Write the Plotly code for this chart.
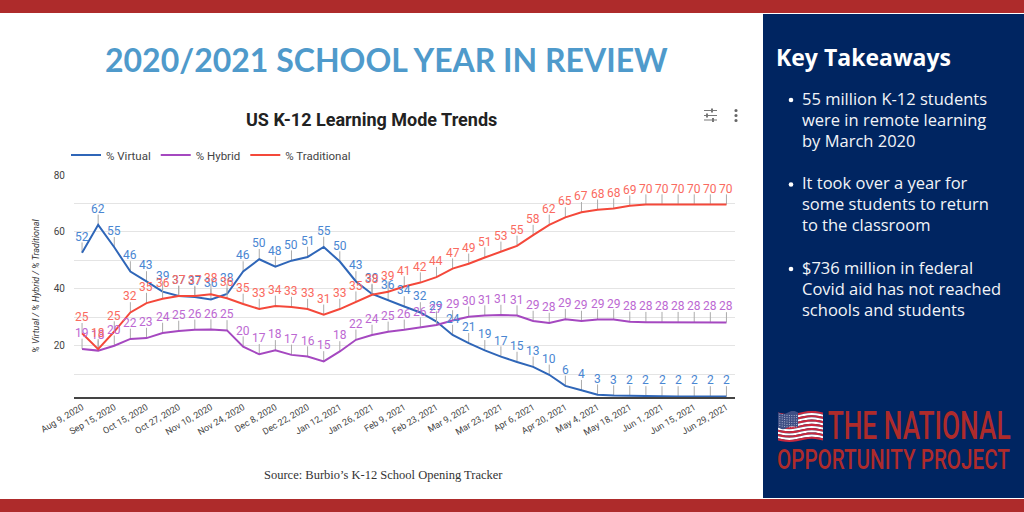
import math

import plotly.graph_objects as go

# Tick labels sit on every second point of the sheet
date_labels = [
    "Aug 9, 2020", "Sep 15, 2020", "Oct 15, 2020", "Oct 27, 2020", "Nov 10, 2020",
    "Nov 24, 2020", "Dec 8, 2020", "Dec 22, 2020", "Jan 12, 2021", "Jan 26, 2021",
    "Feb 9, 2021", "Feb 23, 2021", "Mar 9, 2021", "Mar 23, 2021", "Apr 6, 2021",
    "Apr 20, 2021", "May 4, 2021", "May 18, 2021", "Jun 1, 2021", "Jun 15, 2021",
    "Jun 29, 2021",
]

# Line heights
virtual = [52.7, 62.5, 54.6, 46.1, 42.6, 39.0, 37.5, 37.1, 36.3, 38.2, 46.1, 50.4, 47.8, 49.9,
           51.2, 54.7, 49.6, 42.6, 38.2, 35.9, 33.8, 31.7, 28.5, 23.8, 20.9, 18.4, 16.2, 14.3,
           12.6, 9.8, 5.9, 4.4, 2.8, 2.5, 2.4, 2.2, 2.2, 2.2, 2.2, 2.2, 2.2]
hybrid = [18.9, 18.3, 20.0, 22.4, 22.7, 24.5, 25.2, 25.6, 25.7, 25.4, 19.7, 17.0, 18.4, 16.8,
          16.2, 14.5, 18.0, 22.1, 23.8, 24.9, 25.6, 26.4, 27.3, 28.9, 30.2, 30.6, 30.8, 30.6,
          28.7, 28.0, 29.3, 28.7, 29.2, 29.2, 28.4, 28.3, 28.3, 28.3, 28.3, 28.2, 28.2]
traditional = [24.4, 18.8, 25.0, 31.7, 35.0, 36.5, 37.5, 37.5, 38.1, 36.7, 34.7, 32.9, 34.0, 33.6,
               32.9, 30.9, 32.9, 35.5, 37.9, 39.0, 40.8, 42.2, 44.1, 47.1, 48.8, 51.0, 53.0, 55.1,
               58.9, 62.5, 65.1, 66.9, 67.8, 68.2, 69.2, 69.6, 69.6, 69.6, 69.6, 69.6, 69.6]

# Printed point labels
virtual_labels = [52, 62, 55, 46, 43, 39, 37, 37, 36, 38, 46, 50, 48, 50, 51, 55, 50, 43, 39, 36, 34,
                  32, 29, 24, 21, 19, 17, 15, 13, 10, 6, 4, 3, 3, 2, 2, 2, 2, 2, 2, 2]
hybrid_labels = [19, 18, 20, 22, 23, 24, 25, 26, 26, 25, 20, 17, 18, 17, 16, 15, 18, 22, 24, 25, 26,
                 26, 27, 29, 30, 31, 31, 31, 29, 28, 29, 29, 29, 29, 28, 28, 28, 28, 28, 28, 28]
traditional_labels = [25, 18, 25, 32, 35, 36, 37, 37, 38, 36, 35, 33, 34, 33, 33, 31, 33, 35, 38, 39, 41,
                      42, 44, 47, 49, 51, 53, 55, 58, 62, 65, 67, 68, 68, 69, 70, 70, 70, 70, 70, 70]

takeaways = [
    ["55 million K-12 students", "were in remote learning", "by March 2020"],
    ["It took over a year for", "some students to return", "to the classroom"],
    ["$736 million in federal", "Covid aid has not reached", "schools and students"],
]

RED = "#AE2B2B"
NAVY = "#002561"
W, H = 1024, 512

# No condensed face is installed, so the logo text gets squeezed to its width in the browser
squeeze_logo = """
document.body.style.margin = '0';
var widths = {'THE NATIONAL': 183, 'OPPORTUNITY PROJECT': 233};
document.querySelectorAll('text.annotation-text').forEach(function (el) {
    var w = widths[el.textContent];
    if (w) {
        var box = el.getBBox();
        var cx = box.x + box.width / 2;
        el.setAttribute('transform', 'translate(' + cx + ',0) scale(' + (w / box.width) + ',1) translate(' + (-cx) + ',0)');
    }
});
"""


def px(x):
    return x / W


def py(y):
    return 1 - y / H


def rect(x0, y0, x1, y1, color):
    return dict(type="rect", xref="paper", yref="paper", x0=px(x0), x1=px(x1), y0=py(y0), y1=py(y1),
                fillcolor=color, line_width=0, layer="below")


def dot(x, y, r, color):
    return dict(type="circle", xref="paper", yref="paper", x0=px(x - r), x1=px(x + r), y0=py(y - r), y1=py(y + r),
                fillcolor=color, line_width=0)


def wave(x0, x1, y0, y1, color):
    # little ribbon with the flag's ripple on both edges
    steps = [x0 + (x1 - x0) * i / 12 for i in range(13)]
    off = [1.6 * math.sin((x - x0) / (x1 - x0) * 2 * math.pi) for x in steps]
    pts = [(x, y0 + o) for x, o in zip(steps, off)] + [(x, y1 + o) for x, o in zip(steps[::-1], off[::-1])]
    path = "M " + " L ".join(f"{px(a):.5f},{py(b):.5f}" for a, b in pts) + " Z"
    return dict(type="path", xref="paper", yref="paper", path=path, fillcolor=color, line_width=0)


def label(x, y, text, size, color, family, anchor="left", **kw):
    return dict(xref="paper", yref="paper", x=px(x), y=py(y), text=text, showarrow=False, xanchor=anchor,
                yanchor="middle", font=dict(size=size, color=color, family=family, **kw))


index = list(range(len(virtual)))
fig = go.Figure()

series = [
    ("% Virtual", virtual, virtual_labels, "#2F66B8", "#4A86D2"),
    ("% Hybrid", hybrid, hybrid_labels, "#A548C0", "#BC68D2"),
    ("% Traditional", traditional, traditional_labels, "#F4483A", "#FA6A60"),
]
annotations = []
for name, values, labels, line_color, text_color in series:
    # the stems under the point labels are one-sided error bars
    fig.add_trace(go.Scatter(x=index, y=values, mode="lines", name=name, line=dict(color=line_color, width=2),
                             error_y=dict(type="constant", value=3.6, symmetric=False, valueminus=0,
                                          color="#ABABAB", thickness=1, width=0)))
    for i, v, t in zip(index, values, labels):
        annotations.append(dict(x=i, y=v, xref="x", yref="y", text=str(t), showarrow=False, yshift=16,
                                yanchor="middle", font=dict(size=12, color=text_color, family="Roboto")))

# page furniture
shapes = [
    rect(0, 0, W, 13, RED),
    rect(0, 499, W, H, RED),
    rect(763, 14, W, 498, NAVY),
]

# flag
flag_top, flag_left, flag_right = 412.5, 778, 823
stripe = 2.15
for s in range(13):
    shapes.append(wave(flag_left, flag_right, flag_top + s * stripe, flag_top + (s + 1) * stripe,
                       "#C8283E" if s % 2 == 0 else "#FFFFFF"))
shapes.append(wave(flag_left, flag_left + 20, flag_top, flag_top + 7 * stripe, "#3F4F85"))
for r in range(6):
    for c in range(8):
        shapes.append(dot(flag_left + 1.8 + c * 2.4, flag_top + 1.6 + r * 2.3 + 1.4 * math.sin(c * 0.3), 0.5, "#C9CFE0"))

# chart menu icons
for y, tick in [(110.5, 712), (115.5, 707), (120, 713)]:
    shapes.append(rect(704, y - 0.5, 717, y + 0.5, "#777777") | {"layer": "above"})
    shapes.append(rect(tick - 1, y - 2, tick + 1, y + 2, "#777777") | {"layer": "above"})
for y in (110.5, 115.5, 120.5):
    shapes.append(dot(736, y, 1.6, "#666666"))

annotations += [
    label(386, 59, "<b>2020/2021 SCHOOL YEAR IN REVIEW</b>", 32, "#4F9ACB", "Lato", "center"),
    label(371, 119, "<b>US K-12 Learning Mode Trends</b>", 18, "#222222", "Roboto", "center"),
    label(383, 475, "Source: Burbio’s K-12 School Opening Tracker", 12.5, "#333333", "Liberation Serif", "center"),
    label(774, 57, "<b>Key Takeaways</b>", 23, "#FFFFFF", "Open Sans"),
    label(918.5, 426, "THE NATIONAL", 38, RED, "Roboto", "center", weight=500),
    label(893.5, 460, "OPPORTUNITY PROJECT", 27, RED, "Roboto", "center", weight=500),
]
for b, lines in enumerate(takeaways):
    top = 98 + b * 84.5
    shapes.append(dot(791, top + 2, 2.3, "#FFFFFF"))
    for n, line in enumerate(lines):
        annotations.append(label(800, top + n * 21, line, 16.5, "#F2F4F8", "Open Sans", weight=500))

fig.update_layout(
    width=W,
    height=H,
    margin=dict(l=0, r=0, t=0, b=0, autoexpand=False),
    paper_bgcolor="white",
    plot_bgcolor="white",
    showlegend=True,
    legend=dict(orientation="h", x=px(66), y=py(155), xanchor="left", yanchor="middle",
                font=dict(size=11.5, color="#444444", family="Roboto")),
    xaxis=dict(domain=[px(74), px(734.5)], range=[-0.5, 40.5], tickvals=index[::2], ticktext=date_labels,
               tickangle=-30, showgrid=False, zeroline=False, showline=True, linecolor="#444444", linewidth=1.5,
               ticks="", automargin=False, tickfont=dict(size=9, color="#444444", family="Roboto")),
    yaxis=dict(domain=[py(397), py(175)], range=[2, 80], tickvals=[20, 40, 60, 80], gridcolor="#E4E4E4", gridwidth=1.3,
               zeroline=False, ticks="", automargin=False, ticklabelstandoff=8,
               tickfont=dict(size=10, color="#444444", family="Roboto"),
               minor=dict(tickvals=[10, 30, 50, 70], showgrid=True, gridcolor="#E4E4E4", gridwidth=1.3),
               title=dict(text="<i>% Virtual / % Hybrid / % Traditional</i>", standoff=12,
                          font=dict(size=9, color="#333333", family="Roboto"))),
    shapes=shapes,
    annotations=annotations,
)

fig.write_html("out.html", config=dict(displayModeBar=False), post_script=squeeze_logo)
